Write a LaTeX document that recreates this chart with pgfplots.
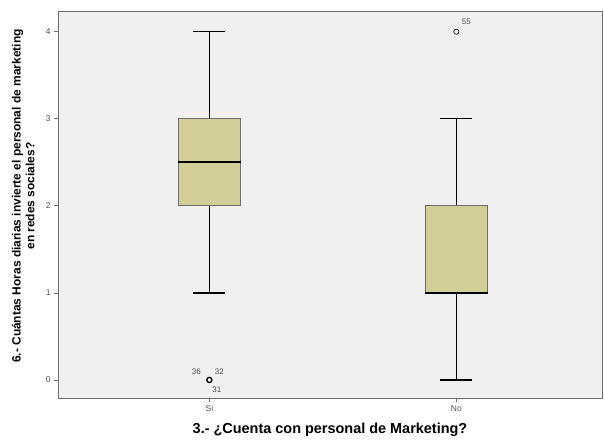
\documentclass[border=0pt]{standalone}
\usepackage{pgfplots}
\pgfplotsset{compat=1.18}
\usepgfplotslibrary{statistics}
\usepackage{fontspec}
\setmainfont{Liberation Sans}
\definecolor{boxfill}{HTML}{D3CE97}
\definecolor{plotbg}{HTML}{F0F0F0}
\definecolor{framec}{HTML}{6E6E6E}
\definecolor{tickc}{HTML}{505050}
\begin{document}
\begin{tikzpicture}
\begin{axis}[
  name=ax,
  scale only axis,
  width=544bp, height=386bp,
  xmin=0.387, xmax=2.59,
  ymin=-0.207, ymax=4.226,
  clip=false,
  boxplot/draw direction=y,
  axis background/.style={fill=plotbg},
  axis line style={draw=framec, line width=1pt},
  xtick={1,2}, xticklabels={Si,No},
  ytick={0,1,2,3,4},
  tick align=outside, tick pos=left,
  major tick length=4bp,
  every tick/.style={draw=framec, line width=0.8pt},
  /pgf/number format/assume math mode=true,
  ticklabel style={font=\fontsize{8.5}{10}\selectfont, text=tickc},
  xlabel={3.- ¿Cuenta con personal de Marketing?},
  ylabel={6.- Cuántas Horas diarias invierte el personal de marketing\\en redes sociales?},
  xlabel style={at={(axis description cs:0.5,-0.083)}, anchor=center, font=\bfseries\fontsize{14.5}{16}\selectfont},
  ylabel style={at={(axis description cs:-0.064,0.523)}, anchor=center, align=center, font=\bfseries\fontsize{12}{14}\selectfont},
]
\addplot[black, line width=1.4pt, fill=boxfill,
  boxplot prepared={draw position=1, lower whisker=1, lower quartile=2, median=2.5, upper quartile=3, upper whisker=4, box extend=0.253, whisker extend=0.13},
  boxplot/every box/.style={draw=framec, line width=1pt, fill=boxfill},
  boxplot/every median/.style={black, line width=1.8pt}] coordinates {};
\addplot[black, line width=1.4pt, fill=boxfill,
  boxplot prepared={draw position=2, lower whisker=0, lower quartile=1, median=1, upper quartile=2, upper whisker=3, box extend=0.253, whisker extend=0.13},
  boxplot/every box/.style={draw=framec, line width=1pt, fill=boxfill},
  boxplot/every median/.style={black, line width=1.8pt}] coordinates {};
\addplot[only marks, mark=o, mark size=2.6bp, black, line width=1.3pt] coordinates {(1,0)};
\addplot[only marks, mark=o, mark size=2.6bp, black, line width=0.6pt] coordinates {(2,4)};
\node[font=\fontsize{8}{9}\selectfont, text=tickc, xshift=-13bp, yshift=8bp] at (axis cs:1,0) {36};
\node[font=\fontsize{8}{9}\selectfont, text=tickc, xshift=10bp, yshift=8bp] at (axis cs:1,0) {32};
\node[font=\fontsize{8}{9}\selectfont, text=tickc, xshift=7.5bp, yshift=-10bp] at (axis cs:1,0) {31};
\node[font=\fontsize{8}{9}\selectfont, text=tickc, xshift=10bp, yshift=10bp] at (axis cs:2,4) {55};
\end{axis}
\path ([shift={(-58bp,-44bp)}]ax.south west) rectangle ([shift={(2bp,12bp)}]ax.north east);
\end{tikzpicture}
\end{document}
